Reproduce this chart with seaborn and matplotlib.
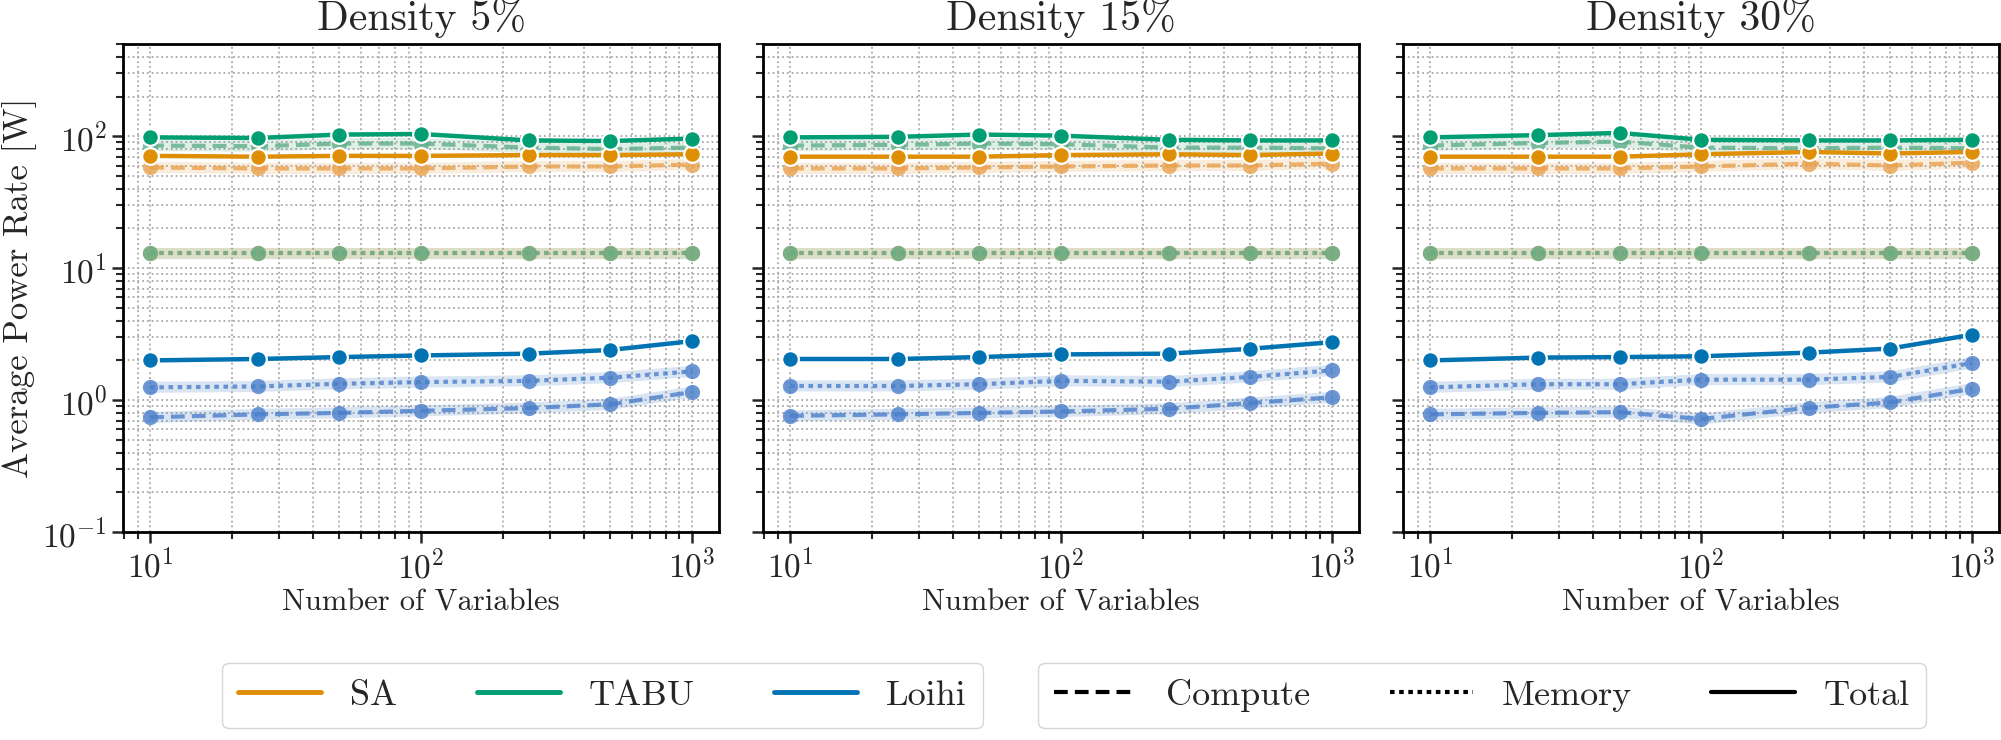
import matplotlib
matplotlib.use("Agg")
import matplotlib.pyplot as plt
from matplotlib.lines import Line2D
import seaborn as sns

# number of variables and panel titles
x_vars = [10, 25, 50, 100, 250, 500, 1000]
densities = ["5%", "15%", "30%"]

# one row per density
sa_total = [[71, 70, 71, 71, 72, 72, 73],
            [70, 70, 70, 72, 73, 72, 74],
            [70, 70, 70, 73, 76, 74, 76]]
sa_compute = [[58, 57, 57, 57, 59, 59, 61],
              [57, 57, 58, 59, 60, 60, 62],
              [57, 57, 57, 59, 62, 60, 63]]
sa_memory = [[13.0, 13.0, 13.0, 13.0, 13.0, 13.0, 13.0],
             [13.0, 13.0, 13.0, 13.0, 13.0, 13.0, 13.0],
             [13.0, 13.0, 13.0, 13.0, 13.0, 13.0, 13.0]]

tabu_total = [[98, 97, 103, 104, 93, 92, 96],
              [98, 99, 103, 101, 94, 93, 93],
              [98, 102, 106, 94, 93, 93, 94]]
tabu_compute = [[85, 84, 88, 88, 82, 80, 82],
                [85, 86, 88, 87, 82, 82, 81],
                [85, 89, 91, 82, 81, 82, 81]]
tabu_memory = [[13.1, 13.1, 13.1, 13.1, 13.1, 13.1, 13.1],
               [13.1, 13.1, 13.1, 13.1, 13.1, 13.1, 13.1],
               [13.1, 13.1, 13.1, 13.1, 13.1, 13.1, 13.1]]

loihi_total = [[2.0, 2.05, 2.12, 2.18, 2.25, 2.4, 2.8],
               [2.05, 2.05, 2.12, 2.22, 2.25, 2.45, 2.75],
               [2.0, 2.1, 2.12, 2.15, 2.29, 2.46, 3.13]]
loihi_compute = [[0.74, 0.78, 0.80, 0.83, 0.87, 0.93, 1.15],
                 [0.76, 0.78, 0.80, 0.82, 0.86, 0.95, 1.05],
                 [0.78, 0.80, 0.81, 0.72, 0.875, 0.96, 1.22]]
loihi_memory = [[1.25, 1.27, 1.33, 1.37, 1.40, 1.48, 1.65],
                [1.28, 1.28, 1.32, 1.40, 1.38, 1.50, 1.68],
                [1.25, 1.32, 1.32, 1.43, 1.43, 1.50, 1.91]]

sns.set_style("ticks")
plt.rcParams["font.family"] = ["cmr10"]
plt.rcParams["mathtext.fontset"] = "cm"
plt.rcParams["axes.formatter.use_mathtext"] = True

pal = sns.color_palette("colorblind")
col = {"SA": pal[1], "TABU": pal[2], "Loihi": pal[0]}
light = {"SA": "#e9a24f", "TABU": "#5fae8a", "Loihi": "#4a7fcb"}

styles = {"Compute": (0, (3.3, 1.7)), "Memory": (0, (1.1, 1.1)), "Total": "-"}

series = {
    "SA": {"Compute": sa_compute, "Memory": sa_memory, "Total": sa_total},
    "TABU": {"Compute": tabu_compute, "Memory": tabu_memory, "Total": tabu_total},
    "Loihi": {"Compute": loihi_compute, "Memory": loihi_memory, "Total": loihi_total},
}

fig, axes = plt.subplots(1, 3, figsize=(20.01, 7.4), dpi=100, sharey=True)
fig.subplots_adjust(left=0.0615, right=0.999, bottom=0.281, top=0.9405, wspace=0.074)

for i, ax in enumerate(axes):
    # light parts first, totals on top
    for comp in ["Compute", "Memory"]:
        for alg in ["SA", "TABU", "Loihi"]:
            y = series[alg][comp][i]
            ax.plot(x_vars, y, color=light[alg], lw=8, alpha=0.2,
                    solid_capstyle="round", zorder=2)
            sns.lineplot(x=x_vars, y=y, ax=ax, color=light[alg], alpha=0.8,
                         lw=3, linestyle=styles[comp], marker="o", markersize=11,
                         markeredgecolor="white", markeredgewidth=0,
                         zorder=3)
    for alg in ["SA", "TABU", "Loihi"]:
        sns.lineplot(x=x_vars, y=series[alg]["Total"][i], ax=ax, color=col[alg],
                     lw=3.2, marker="o", markersize=12, markeredgecolor="white",
                     markeredgewidth=1.6, zorder=4)

    ax.set_xscale("log")
    ax.set_yscale("log")
    ax.set_ylim(0.1, 500)
    ax.grid(True, which="both", linestyle=":", color="#a8a8a8", lw=1.3)
    ax.set_axisbelow(True)
    for s in ax.spines.values():
        s.set_linewidth(2)
        s.set_color("black")
    ax.tick_params(which="major", length=8, width=1.8, labelsize=24)
    ax.tick_params(which="minor", length=5, width=1.5)
    ax.set_title(f"Density {densities[i]}", fontsize=30, pad=10)
    ax.set_xlabel("Number of Variables", fontsize=22)
    ax.set_ylabel("")
    ax.tick_params(axis="y", which="both", left=True)

axes[0].set_ylabel("Average Power Rate [W]", fontsize=25)

alg_handles = [Line2D([], [], color=col[a], lw=3.5, label=a) for a in ["SA", "TABU", "Loihi"]]
comp_handles = [Line2D([], [], color="black", lw=3, linestyle=styles[c], label=c)
                for c in ["Compute", "Memory", "Total"]]

leg_kw = dict(ncol=3, fontsize=26, frameon=True, fancybox=True, handlelength=2.3,
              columnspacing=2.2, handletextpad=0.8, edgecolor="#cccccc",
              borderpad=0.45, loc="center")
fig.legend(handles=alg_handles, bbox_to_anchor=(0.301, 0.06), **leg_kw)
fig.legend(handles=comp_handles, bbox_to_anchor=(0.7406, 0.06), **leg_kw)

fig.savefig("out.png", dpi=100)
